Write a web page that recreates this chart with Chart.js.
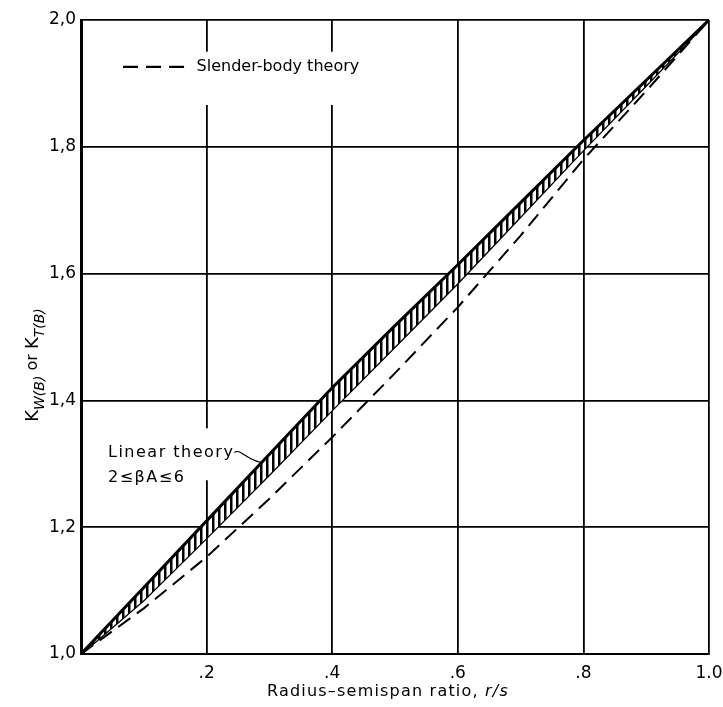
<!DOCTYPE html>
<html>
<head>
<meta charset="utf-8">
<script src="https://cdn.jsdelivr.net/npm/chart.js@4.4.0/dist/chart.umd.min.js"></script>
<style>
html, body { margin: 0; padding: 0; background: #fff; }
</style>
</head>
<body>
<canvas id="myChart" width="723" height="707"></canvas>
<script>
// r/s values along the x axis
const ratio = [0, 0.1, 0.2, 0.3, 0.4, 0.5, 0.6, 0.7, 0.8, 0.9, 1.0];
// linear theory band, 2 <= beta A <= 6 (upper and lower edge)
const linearUpper = [1.0, 1.105, 1.21, 1.315, 1.42, 1.518, 1.614, 1.712, 1.81, 1.905, 2.0];
const linearLower = [1.0, 1.085, 1.183, 1.283, 1.385, 1.485, 1.585, 1.69, 1.795, 1.897, 2.0];
// slender-body theory
const slenderBody = [1.0, 1.072, 1.153, 1.245, 1.342, 1.443, 1.547, 1.66, 1.78, 1.888, 2.0];

const xTickLabels = ['', '.2', '.4', '.6', '.8', '1.0'];
const yTickLabels = ['1,0', '1,2', '1,4', '1,6', '1,8', '2,0'];

const FONT = '"DejaVu Sans", sans-serif';

function pts(ys) {
    return ratio.map((x, i) => ({ x: x, y: ys[i] }));
}

const ctx = document.getElementById('myChart').getContext('2d');

// vertical hatching for the linear theory band
const tile = document.createElement('canvas');
tile.width = 6; tile.height = 6;
const tg = tile.getContext('2d');
tg.fillStyle = '#fff'; tg.fillRect(0, 0, 6, 6);
tg.fillStyle = '#000'; tg.fillRect(2, 0, 2.5, 6);
const hatch = ctx.createPattern(tile, 'repeat');

const notes = {
    id: 'notes',
    beforeDatasetsDraw(chart) {
        const c = chart.ctx, xs = chart.scales.x, ys = chart.scales.y;
        const px = v => xs.getPixelForValue(v), py = v => ys.getPixelForValue(v);
        c.save();
        // white space behind the texts (grid lines are broken there)
        c.fillStyle = '#fff';
        c.fillRect(px(0.054), py(1.95), px(0.45) - px(0.054), py(1.866) - py(1.95));
        c.fillRect(px(0.03), py(1.356), px(0.252) - px(0.03), py(1.274) - py(1.356));

        // legend
        c.strokeStyle = '#000';
        c.lineWidth = 2.2;
        c.setLineDash([15, 8]);
        c.beginPath();
        c.moveTo(px(0.067), py(1.926));
        c.lineTo(px(0.168), py(1.926));
        c.stroke();
        c.setLineDash([]);
        c.fillStyle = '#000';
        c.font = '16px ' + FONT;
        c.textBaseline = 'middle';
        c.textAlign = 'left';
        c.fillText('Slender-body theory', px(0.184), py(1.926));

        // linear theory note
        c.letterSpacing = '1.5px';
        c.fillText('Linear theory', px(0.043), py(1.318));
        const tw = c.measureText('Linear theory').width;
        c.fillText('2\u2264\u03B2A\u22646', px(0.043), py(1.278));
        c.letterSpacing = '0px';
        c.lineWidth = 1.2;
        c.beginPath();
        const x0 = px(0.043) + tw, y0 = py(1.318);
        c.moveTo(x0, y0);
        c.bezierCurveTo(x0 + 6, y0 - 4, x0 + 10, y0 + 6, px(0.287), py(1.302));
        c.stroke();
        c.restore();
    },
    afterDraw(chart) {
        const c = chart.ctx;
        c.save();
        c.fillStyle = '#000';
        // x axis title
        c.textBaseline = 'middle';
        c.textAlign = 'left';
        c.letterSpacing = '1.2px';
        c.font = '16px ' + FONT;
        const t1 = 'Radius\u2013semispan ratio, ';
        const w1 = c.measureText(t1).width;
        c.font = 'italic 16px ' + FONT;
        const w2 = c.measureText('r/s').width;
        const x = 388 - (w1 + w2) / 2;
        c.font = '16px ' + FONT;
        c.fillText(t1, x, 692);
        c.font = 'italic 16px ' + FONT;
        c.fillText('r/s', x + w1, 692);
        c.letterSpacing = '0px';

        // y axis title, rotated
        c.translate(33, 365);
        c.rotate(-Math.PI / 2);
        const parts = [
            ['18px ' + FONT, 'K', 0],
            ['italic 14px ' + FONT, 'W(B)', 7],
            ['16px ' + FONT, ' or ', 0],
            ['18px ' + FONT, 'K', 0],
            ['italic 14px ' + FONT, 'T(B)', 7]
        ];
        let total = 0;
        parts.forEach(p => { c.font = p[0]; total += c.measureText(p[1]).width; });
        let cx = -total / 2;
        parts.forEach(p => {
            c.font = p[0];
            c.fillText(p[1], cx, p[2]);
            cx += c.measureText(p[1]).width;
        });
        c.restore();
    }
};

new Chart(ctx, {
    type: 'line',
    data: {
        datasets: [
            {
                label: 'Linear theory upper',
                data: pts(linearUpper),
                borderColor: '#000',
                borderWidth: 3,
                pointRadius: 0,
                fill: '+1',
                backgroundColor: hatch
            },
            {
                label: 'Linear theory lower',
                data: pts(linearLower),
                borderColor: '#000',
                borderWidth: 2.5,
                pointRadius: 0,
                fill: false
            },
            {
                label: 'Slender-body theory',
                data: pts(slenderBody),
                borderColor: '#000',
                borderWidth: 2,
                borderDash: [15, 8],
                pointRadius: 0,
                fill: false
            }
        ]
    },
    options: {
        responsive: false,
        animation: false,
        layout: { padding: { top: 20, right: 14, left: 0, bottom: 0 } },
        scales: {
            x: {
                type: 'linear',
                min: 0,
                max: 1,
                afterFit: s => { s.height = 53; s.paddingLeft = 0; s.paddingRight = 0; },
                grid: { color: '#000', lineWidth: 1.8, drawTicks: false },
                border: { color: '#000', width: 2 },
                ticks: {
                    stepSize: 0.2,
                    padding: 9,
                    color: '#000',
                    font: { family: FONT, size: 17 },
                    maxRotation: 0,
                    callback: v => xTickLabels[Math.round(v / 0.2)]
                }
            },
            y: {
                min: 1,
                max: 2,
                afterFit: s => { s.width = 81; s.paddingTop = 0; s.paddingBottom = 0; },
                grid: { color: '#000', lineWidth: 1.8, drawTicks: false },
                border: { color: '#000', width: 3 },
                ticks: {
                    stepSize: 0.2,
                    padding: 5,
                    color: '#000',
                    font: { family: FONT, size: 17 },
                    callback: v => yTickLabels[Math.round((v - 1) / 0.2)]
                }
            }
        },
        plugins: {
            legend: { display: false },
            tooltip: { enabled: false }
        }
    },
    plugins: [notes]
});
</script>
</body>
</html>
